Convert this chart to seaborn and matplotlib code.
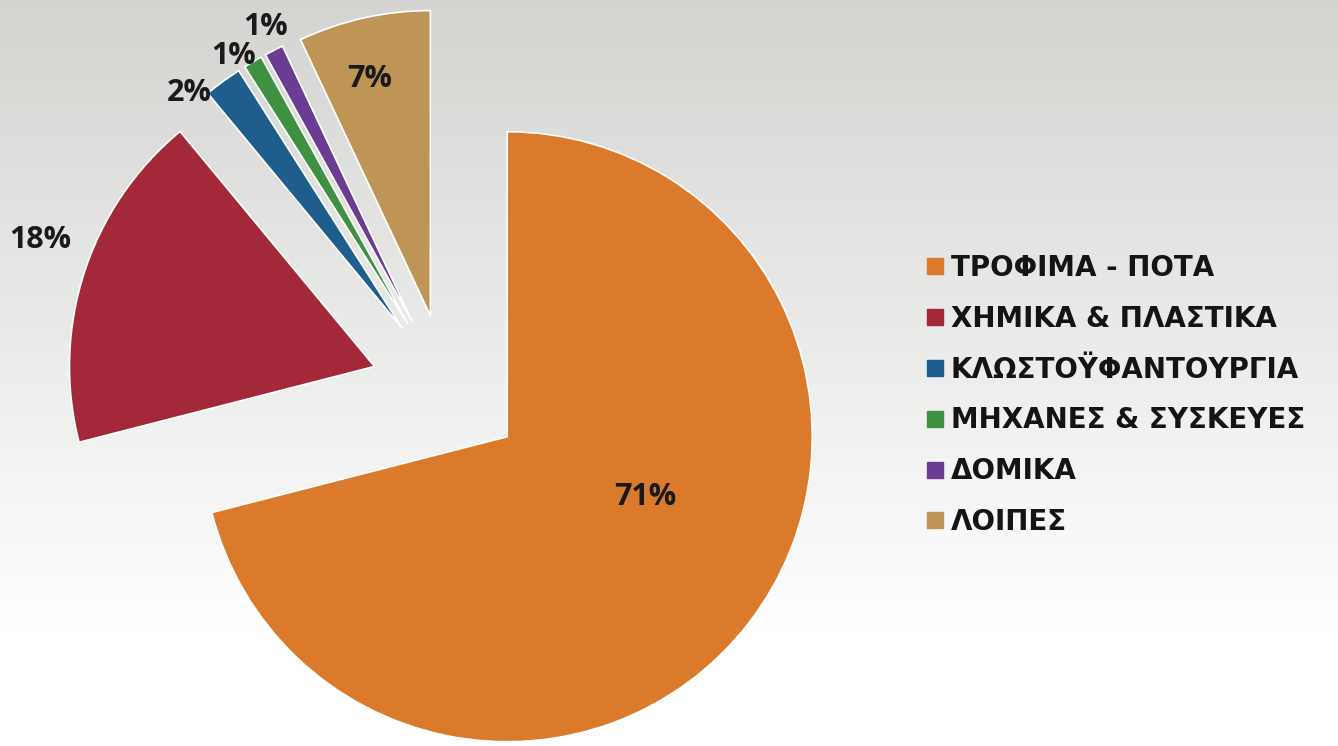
import numpy as np
import matplotlib
matplotlib.use("Agg")
import matplotlib.pyplot as plt
from matplotlib.lines import Line2D
import seaborn as sns

categories = ["ΤΡΟΦΙΜΑ - ΠΟΤΑ", "ΧΗΜΙΚΑ & ΠΛΑΣΤΙΚΑ", "ΚΛΩΣΤΟΫΦΑΝΤΟΥΡΓΙΑ",
              "ΜΗΧΑΝΕΣ & ΣΥΣΚΕΥΕΣ", "ΔΟΜΙΚΑ", "ΛΟΙΠΕΣ"]
values = [71, 18, 2, 1, 1, 7]
pct_labels = ["71%", "18%", "2%", "1%", "1%", "7%"]

sns.set_theme(style="white")
plt.rcParams["font.family"] = ["Open Sans", "DejaVu Sans"]

palette = sns.color_palette(["#DB7A2A", "#A3283A", "#1F5E8C", "#3F9142",
                             "#6A3D92", "#BE9556"])

W, H = 1338, 746
fig = plt.figure(figsize=(W / 100, H / 100), dpi=100)

# background gradient
bg = fig.add_axes([0, 0, 1, 1], zorder=-1)
t = np.linspace(0, 1, 256)[:, None]
top = np.array([0.83, 0.83, 0.82])
bot = np.array([1.0, 1.0, 1.0])
frac = np.clip(t / 0.85, 0, 1)
grad = top[None, None, :] * (1 - frac[..., None]) + bot[None, None, :] * frac[..., None]
grad = np.repeat(grad, 2, axis=1)
bg.imshow(grad, aspect="auto", extent=[0, 1, 0, 1])
bg.axis("off")

# pie axes: center at (447, 390) px, radius 305 px
cx, cy, R = 447, 390, 305
ax = fig.add_axes([0, 0, 1, 1])
ax.patch.set_alpha(0)
wedges, _ = ax.pie(values, explode=[0.25] * len(values), startangle=90,
                   counterclock=False, colors=palette, radius=1,
                   wedgeprops=dict(edgecolor="white", linewidth=1.2))
ax.set_xlim(-cx / R, (W - cx) / R)
ax.set_ylim(-(H - cy) / R, cy / R)
ax.set_aspect("auto")
ax.axis("off")

# label placement (layout): radial distance and angular nudge per slice
label_dist = [0.74, 1.42, 1.29, 1.30, 1.33, 1.05]
label_nudge = [9.4, -2.2, 4.9, 1.9, -0.4, 1.3]
for w, txt, d, nd in zip(wedges, pct_labels, label_dist, label_nudge):
    mid = np.deg2rad((w.theta1 + w.theta2) / 2 + nd)
    ax.text(d * np.cos(mid), d * np.sin(mid), txt, ha="center", va="center",
            fontsize=22, fontweight="bold", color="#1a1a1a")

handles = [Line2D([], [], marker="s", linestyle="", markersize=11,
                  markerfacecolor=c, markeredgecolor=c) for c in palette]
leg = fig.legend(handles, categories, loc="upper left",
                 bbox_to_anchor=(916 / W, 1 - 243 / H), frameon=False,
                 handlelength=0.6, handletextpad=0.25,
                 labelspacing=0.82, borderaxespad=0,
                 prop=dict(weight="bold", size=20, family=["DejaVu Sans"]))
for txt in leg.get_texts():
    txt.set_color("#141414")

fig.savefig("out.png", dpi=100)
